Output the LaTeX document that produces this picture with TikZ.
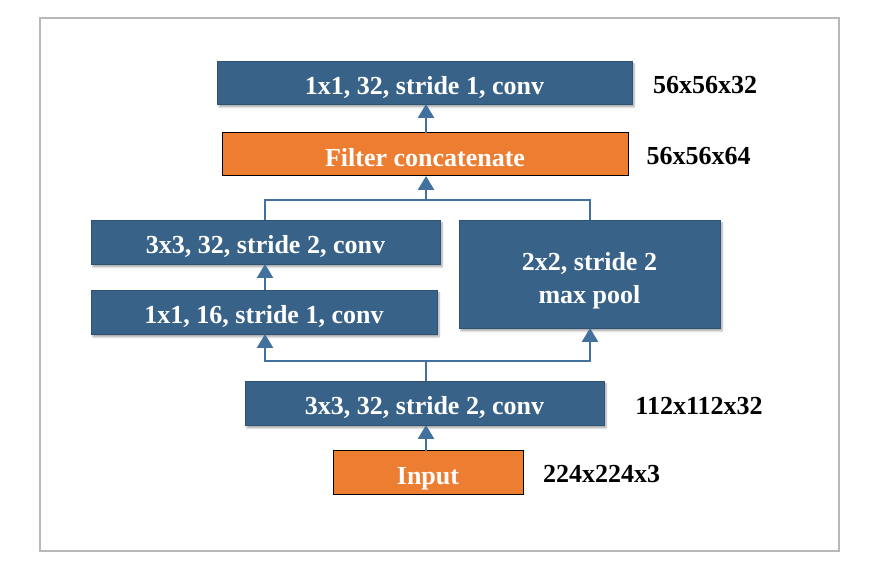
\documentclass[tikz,border=0pt]{standalone}
\usepackage{fontspec}
\setmainfont{Liberation Serif}
\usetikzlibrary{arrows.meta,shadows.blur}

\definecolor{convblue}{HTML}{386287}
\definecolor{convedge}{HTML}{2E5175}
\definecolor{catorange}{HTML}{ED7D31}
\definecolor{linkblue}{HTML}{41719C}

\begin{document}
\begin{tikzpicture}[x=1pt,y=1pt,
    box/.style={inner sep=0pt,outer sep=0pt,align=center,text=white,
      font=\fontsize{26}{33}\selectfont\bfseries},
    oneline/.style={text height=24pt,text depth=0pt},
    convbox/.style={box,fill=convblue,draw=convedge,line width=0.8pt,
      blur shadow={shadow xshift=2pt,shadow yshift=-3pt,shadow blur steps=6,shadow opacity=35}},
    orangebox/.style={box,fill=catorange,draw=black,line width=1pt},
    dimlabel/.style={font=\fontsize{26}{30}\selectfont\bfseries,text=black,
      text height=21pt,text depth=1pt},
    link/.style={draw=linkblue,line width=2.5pt},
    arr/.style={link,-{Triangle[width=16pt,length=14pt]}}]

  % Frame of the picture
  \useasboundingbox (0,0) rectangle (875,575);
  \draw[black!28,line width=1.2pt] (40,24) rectangle (839,557);

  % Layers
  \node[convbox,oneline,minimum width=415pt,minimum height=43pt] (top) at (424.5,492.5) {1x1, 32, stride 1, conv};
  \node[orangebox,oneline,minimum width=406pt,minimum height=43pt] (cat) at (425,420.5) {Filter concatenate};
  \node[convbox,oneline,minimum width=349pt,minimum height=44pt] (convA) at (265.5,333) {3x3, 32, stride 2, conv};
  \node[convbox,oneline,minimum width=346pt,minimum height=44pt] (convB) at (264,263) {1x1, 16, stride 1, conv};
  \node[convbox,minimum width=261pt,minimum height=108pt] (pool) at (589.5,301) {\rule{0pt}{32pt}2x2, stride 2\\max pool};
  \node[convbox,oneline,minimum width=359pt,minimum height=44pt] (stem) at (424.5,172) {3x3, 32, stride 2, conv};
  \node[orangebox,oneline,minimum width=190pt,minimum height=44pt] (input) at (428,102) {Input};

  % Output sizes
  \node[dimlabel] (dtop) at (705,491) {56x56x32};
  \node[dimlabel] (dcat) at (698.5,420) {56x56x64};
  \node[dimlabel] (dstem) at (699,170) {112x112x32};
  \node[dimlabel] (dinput) at (601.5,102) {224x224x3};

  % Split and merge points
  \coordinate (split) at (426,214);
  \coordinate (merge) at (426,375);

  % Connectors
  \draw[arr] (input.north -| split) -- (stem.south -| split);
  \draw[link] (stem.north -| split) -- (split);
  \draw[arr] (split) -| (265,0 |- convB.south);
  \draw[arr] (split) -| (590,0 |- pool.south);
  \draw[arr] (265,0 |- convB.north) -- (265,0 |- convA.south);
  \draw[link] (265,0 |- convA.north) |- (merge);
  \draw[link] (590,0 |- pool.north) |- (merge);
  \draw[arr] (merge) -- (cat.south -| merge);
  \draw[arr] (cat.north -| merge) -- (top.south -| merge);

\end{tikzpicture}
\end{document}
